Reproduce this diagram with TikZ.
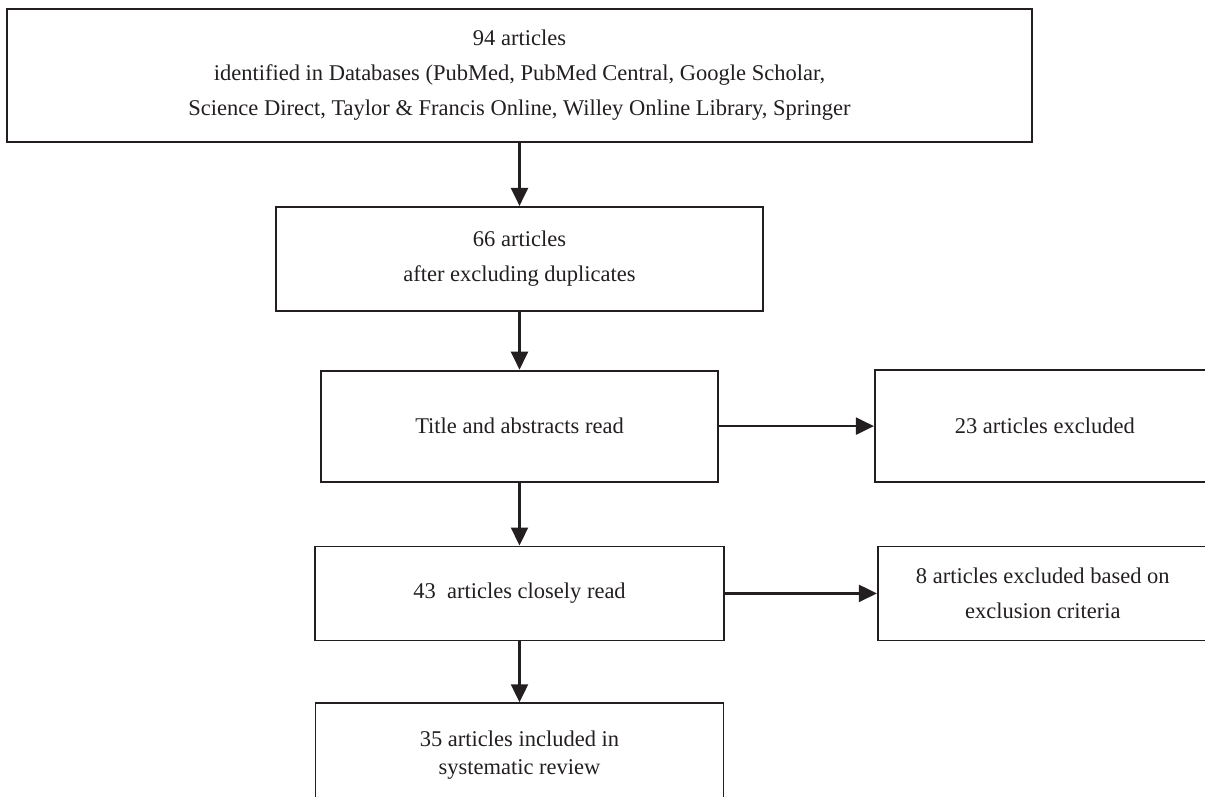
\documentclass[tikz,border=0pt]{standalone}
\usepackage{fontspec}
\setmainfont{Liberation Serif}
\usepackage{xcolor}
\usetikzlibrary{arrows.meta,positioning}
\definecolor{inkdark}{HTML}{231F20}

\begin{document}
\begin{tikzpicture}[
  x=1pt, y=1pt,
  node distance=60pt,
  box/.style={draw=inkdark, line width=1.8pt, align=center, inner sep=0pt, text=inkdark, font=\fontsize{22.5}{35}\selectfont},
  flow/.style={->, draw=inkdark, line width=2.2pt},
  >={Triangle[length=18pt,width=17pt]}
]
  \useasboundingbox (0,0) rectangle (1205,-796);

  \node[box, minimum width=1025pt, minimum height=133pt] (db) at (519.5,-75.5) {94 articles\\ identified in Databases (PubMed, PubMed Central, Google Scholar,\\ Science Direct, Taylor \& Francis Online, Willey Online Library, Springer};
  \node[box, minimum width=487pt, minimum height=104pt, below=63pt of db] (dedup) {66 articles\\ after excluding duplicates};
  \node[box, minimum width=397pt, minimum height=111pt, below=58pt of dedup] (screen) {Title and abstracts read};
  \node[box, minimum width=340pt, minimum height=112pt, right=155pt of screen] (excl1) {23 articles excluded};
  \node[box, minimum width=409pt, minimum height=94pt, below=63pt of screen] (closeread) {43\ \ articles closely read};
  \node[box, minimum width=330pt, minimum height=94pt, right=152pt of closeread] (excl2) {8 articles excluded based on\\ exclusion criteria};
  \node[box, minimum width=408pt, minimum height=104pt, below=61pt of closeread, font=\fontsize{22.5}{28}\selectfont] (incl) {35 articles included in\\ systematic review};

  \draw[flow] (db) -- (dedup);
  \draw[flow] (dedup) -- (screen);
  \draw[flow] (screen) -- (excl1);
  \draw[flow] (screen) -- (closeread);
  \draw[flow] (closeread) -- (excl2);
  \draw[flow] (closeread) -- (incl);
\end{tikzpicture}
\end{document}
